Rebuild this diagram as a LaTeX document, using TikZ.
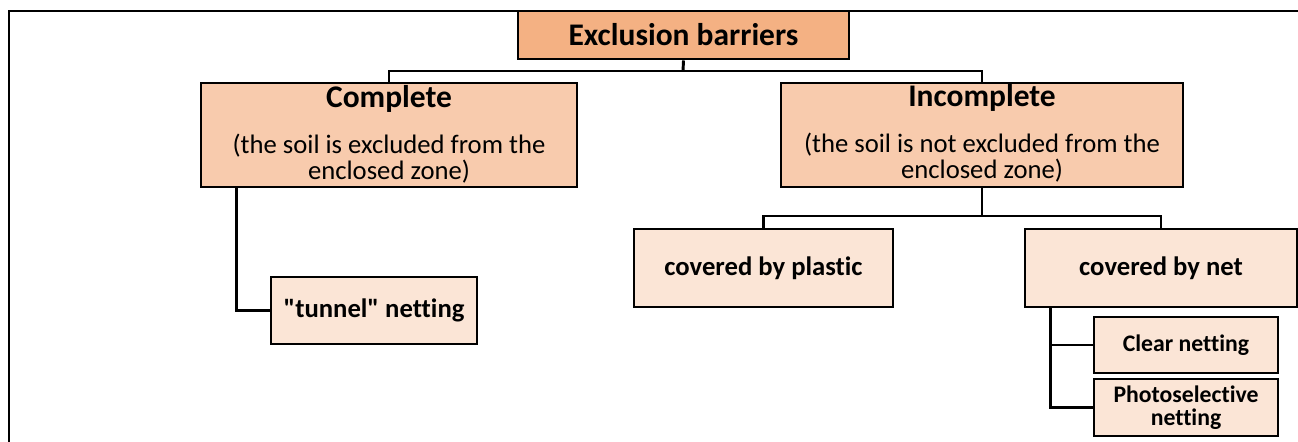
\documentclass[tikz,border=0pt]{standalone}
\usepackage{fontspec}
\setmainfont{Carlito}[Ligatures=NoCommon]
\newfontfamily\plaincarlito{Carlito}[Ligatures=NoCommon]
\usetikzlibrary{calc}
\definecolor{rootfill}{HTML}{F4B183}
\definecolor{midfill}{HTML}{F8CBAD}
\definecolor{leaffill}{HTML}{FBE5D6}
\begin{document}
\begin{tikzpicture}[x=0.75pt,y=-0.75pt,
  box/.style={draw=black, line width=2.2pt, inner sep=0pt, align=center},
  rootbox/.style={box, fill=rootfill, font=\fontsize{23.6pt}{28pt}\selectfont\bfseries},
  midbox/.style={box, fill=midfill},
  leafbox/.style={box, fill=leaffill, font=\fontsize{20pt}{24pt}\selectfont\bfseries},
  smallbox/.style={box, fill=leaffill, font=\fontsize{17.8pt}{17pt}\selectfont\bfseries},
  titletext/.style={anchor=base, inner sep=0pt, font=\fontsize{23.6pt}{28pt}\selectfont\bfseries},
  subtext/.style={anchor=base, inner sep=0pt, font=\fontsize{20pt}{24pt}\selectfont},
  link/.style={draw=black, line width=2.2pt},
  outerframe/.style={draw=black, line width=1.6pt}]
\useasboundingbox (0,0) rectangle (1298,442);
% outer frame (only left and top sides visible)
\draw[outerframe] (9,442) -- (9,11) -- (1298,11);

% boxes
\node[rootbox, minimum width=248.25pt, minimum height=36pt] (root) at (683.5,35) {Exclusion barriers};
\node[midbox, minimum width=282pt, minimum height=78pt] (comp) at (389,135) {};
\node[midbox, minimum width=301.5pt, minimum height=78pt] (incomp) at (982,135) {};
\node[leafbox, minimum width=154.5pt, minimum height=50.25pt] (tunnel) at (374,310.5) {\plaincarlito\bfseries "tunnel" netting};
\node[leafbox, minimum width=194.25pt, minimum height=58.5pt] (plastic) at (763.5,268) {covered by plastic};
\node[leafbox, minimum width=204pt, minimum height=58.5pt] (net) at (1161,268) {covered by net};
\node[smallbox, minimum width=138pt, minimum height=42pt] (clear) at (1186,345) {Clear netting};
\node[smallbox, minimum width=138pt, minimum height=42.75pt] (photo) at (1186,407.5) {Photoselective\\netting};

% texts in the two large boxes
\node[titletext] (compT) at (389,108) {Complete};
\node[subtext] (compS1) at (389,153) {(the soil is excluded from the};
\node[subtext] (compS2) at (389,180) {enclosed zone)};
\node[titletext] (incompT) at (982,107) {Incomplete};
\node[subtext] (incompS1) at (982,152) {(the soil is not excluded from the};
\node[subtext] (incompS2) at (982,178) {enclosed zone)};

% connectors
\coordinate (busA) at (683,71);
\draw[link] (root.south) -- (busA);
\draw[link] (comp.north) |- (busA) -| (incomp.north);

\coordinate (busB) at (982,216);
\draw[link] (incomp.south) -- (busB);
\draw[link] (plastic.north) |- (busB) -| (net.north);

\draw[link] ($(comp.south west)+(37,0)$) |- (tunnel.west);
\draw[link] ($(net.south west)+(27,0)$) |- (clear.west);
\draw[link] ($(net.south west)+(27,0)$) |- (photo.west);
\end{tikzpicture}
\end{document}
